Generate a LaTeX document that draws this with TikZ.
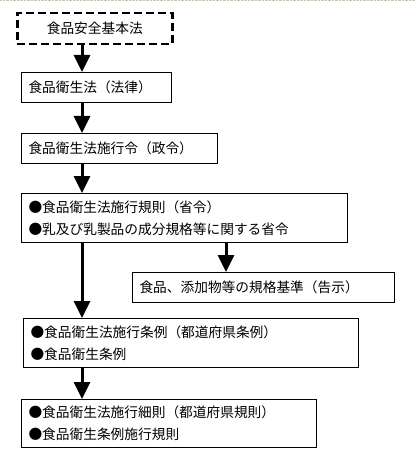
\documentclass[tikz,border=0pt]{standalone}
\usepackage{fontspec}
\setmainfont{Noto Sans CJK JP}
\usetikzlibrary{arrows.meta}

\tikzset{
  box/.style={draw, line width=1pt, anchor=north west, inner xsep=7pt, inner ysep=0pt,
    align=left, font=\fontsize{13.7pt}{22pt}\selectfont},
  dashbox/.style={box, line width=2.5pt, dash pattern=on 8pt off 4pt, align=center},
  arr/.style={line width=3pt, -{Triangle[width=16pt,length=17pt]}}
}

\begin{document}
\begin{tikzpicture}[x=1pt,y=-1pt]
        \useasboundingbox (0,0) rectangle (415,465);
        % Frame edge
        \draw[densely dotted, color={rgb,255:red,200;green,200;blue,160}] (0,0.5) -- (415,0.5);
        % Boxes
        \node[dashbox, minimum width=155pt, minimum height=31pt, text width=141pt] (kihon) at (16,12) {食品安全基本法};
        \node[box, minimum width=150pt, minimum height=30pt, text width=136pt] (eisei) at (21,72) {食品衛生法（法律）};
        \node[box, minimum width=196pt, minimum height=30pt, text width=182pt] (seirei) at (21,133) {食品衛生法施行令（政令）};
        \node[box, minimum width=326pt, minimum height=49pt, text width=312pt] (shorei) at (21,193) {●食品衛生法施行規則（省令）\\●乳及び乳製品の成分規格等に関する省令};
        \node[box, minimum width=262pt, minimum height=30pt, text width=248pt] (kokuji) at (132,272) {食品、添加物等の規格基準（告示）};
        \node[box, minimum width=335pt, minimum height=49pt, text width=321pt] (jorei) at (23,318) {●食品衛生法施行条例（都道府県条例）\\●食品衛生条例};
        \node[box, minimum width=295pt, minimum height=48pt, text width=281pt] (kisoku) at (21,399) {●食品衛生法施行細則（都道府県規則）\\●食品衛生条例施行規則};
        % Arrows
        \coordinate (left) at (82,0);
        \coordinate (right) at (226,0);
        \draw[arr] (kihon.south -| left) -- (eisei.north -| left);
        \draw[arr] (eisei.south -| left) -- (seirei.north -| left);
        \draw[arr] (seirei.south -| left) -- (shorei.north -| left);
        \draw[arr] (shorei.south -| left) -- (jorei.north -| left);
        \draw[arr] (shorei.south -| right) -- (kokuji.north -| right);
        \draw[arr] (jorei.south -| left) -- (kisoku.north -| left);
    \end{tikzpicture}
\end{document}
